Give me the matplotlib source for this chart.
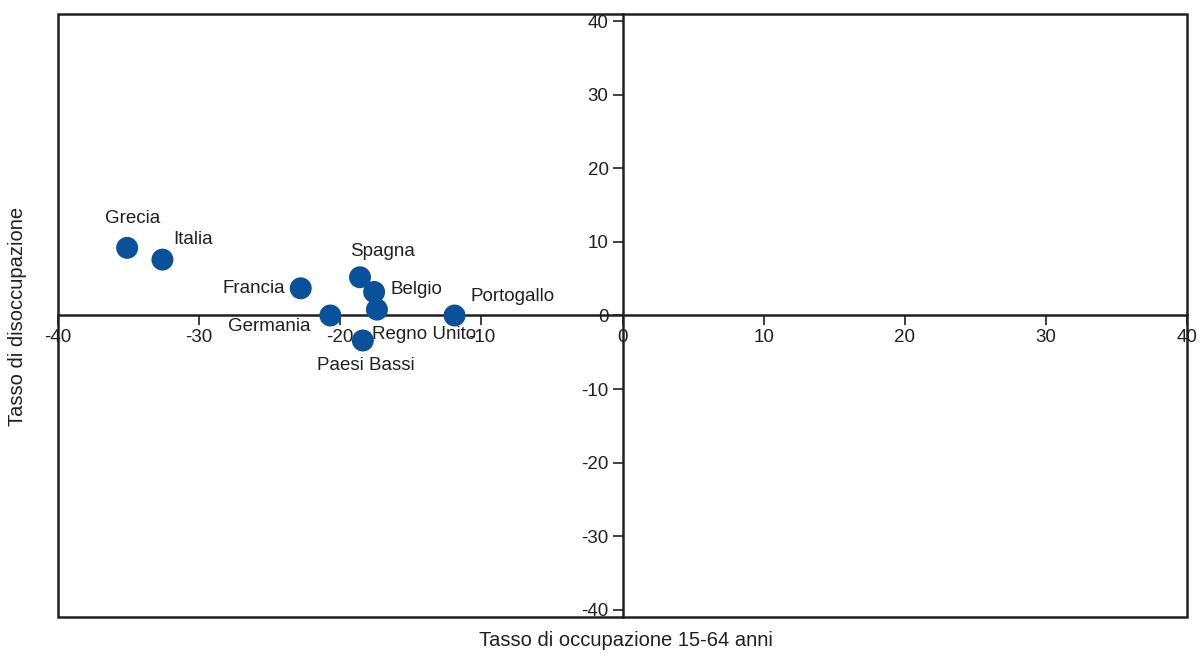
import matplotlib
matplotlib.use("Agg")
import matplotlib.pyplot as plt
from matplotlib.patches import Rectangle

plt.rcParams['font.family'] = ['Liberation Sans', 'DejaVu Sans']
plt.rcParams['axes.unicode_minus'] = False

countries = ["Grecia", "Italia", "Francia", "Germania", "Spagna", "Belgio",
             "Regno Unito", "Paesi Bassi", "Portogallo"]
occupazione = [-35.1, -32.6, -22.8, -20.7, -18.6, -17.6, -17.4, -18.4, -11.9]
disoccupazione = [9.2, 7.6, 3.7, 0.0, 5.2, 3.2, 0.8, -3.4, 0.0]
ticks = [-40, -30, -20, -10, 0, 10, 20, 30, 40]

# label placement (pixel offsets, horizontal alignment)
label_style = {
    "Grecia": (5, 29, "center"),
    "Italia": (11, 20, "left"),
    "Francia": (-16, 0, "right"),
    "Germania": (-20, -11, "right"),
    "Spagna": (23, 26, "center"),
    "Belgio": (16, 2, "left"),
    "Regno Unito": (-5, -25, "left"),
    "Paesi Bassi": (3, -25, "center"),
    "Portogallo": (16, 19, "left"),
}

TXT = "#231f20"
BLUE = "#0a519b"

fig = plt.figure(figsize=(11.99, 6.53), dpi=100)
ax = fig.add_axes([58 / 1199, 1 - 617 / 653, (1187 - 58) / 1199, (617 - 14) / 653])

ax.scatter(occupazione, disoccupazione, s=250, color=BLUE, edgecolors='none', zorder=3)
for name, x, y in zip(countries, occupazione, disoccupazione):
    dx, dy, ha = label_style[name]
    ax.annotate(name, (x, y), xytext=(dx * 0.72, dy * 0.72), textcoords='offset points',
                ha=ha, va='center', fontsize=13.5, color=TXT, zorder=4)

ax.set_xlim(-40, 40)
ax.set_ylim(-41, 41)
ax.spines['left'].set_position(('data', 0))
ax.spines['bottom'].set_position(('data', 0))
ax.spines['top'].set_visible(False)
ax.spines['right'].set_visible(False)
for sp in ('left', 'bottom'):
    ax.spines[sp].set_linewidth(1.8)
    ax.spines[sp].set_color(TXT)
ax.set_xticks(ticks)
ax.set_yticks(ticks)
ax.tick_params(axis='both', direction='out', length=7, width=1.2, color=TXT,
               labelsize=13.5, labelcolor=TXT, pad=3)
ax.patch.set_alpha(0)

frame = Rectangle((0, 0), 1, 1, transform=ax.transAxes, fill=False,
                  lw=1.8, edgecolor=TXT, clip_on=False, zorder=5)
ax.add_patch(frame)

fig.text(626 / 1199, 1 - 640 / 653, "Tasso di occupazione 15-64 anni", ha='center',
         va='center', fontsize=14.5, color=TXT)
fig.text(18 / 1199, 1 - 316 / 653, "Tasso di disoccupazione", ha='center', va='center',
         rotation=90, fontsize=14.5, color=TXT)

fig.savefig("out.png", dpi=100)
